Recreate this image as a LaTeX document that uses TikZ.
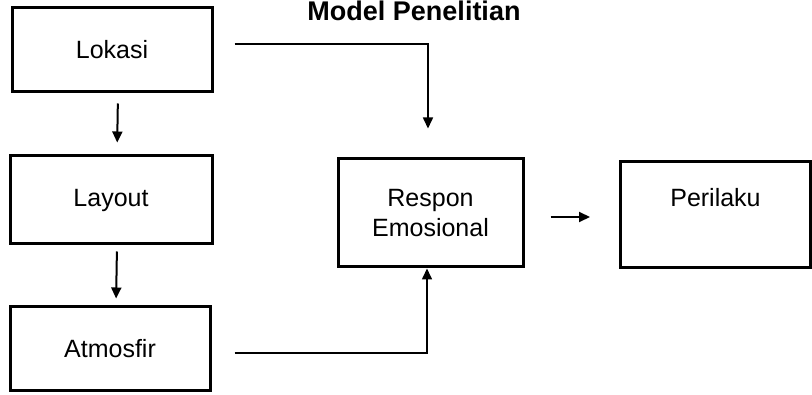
\documentclass[tikz,border=0pt]{standalone}
\usepackage{fontspec}
\setmainfont{Liberation Sans}
\usetikzlibrary{arrows.meta,calc}
\tikzset{
  kotak/.style={
    draw,
    line width=3pt,
    shape=rectangle,
    align=center,
    font=\fontsize{25}{30}\selectfont
  },
  panah/.style={
    line width=2pt,
    -{Triangle[length=11pt,width=10pt]}
  },
  garis/.style={
    line width=1.6pt,
    -{Triangle[length=11pt,width=10pt]}
  },
  judul/.style={
    font=\fontsize{27}{30}\selectfont\bfseries
  }
}

\begin{document}
\begin{tikzpicture}[x=1pt,y=1pt]
    \useasboundingbox (0,0) rectangle (812,394);
    \node[judul, anchor=base] (judul) at (414,373.5) {Model Penelitian};
    \node[kotak, minimum width=200pt, minimum height=84pt] (lokasi) at (112,344) {Lokasi};
    \node[kotak, minimum width=202pt, minimum height=88pt] (layout) at (111,194) {Layout};
    \node[kotak, minimum width=200pt, minimum height=83pt] (atmosfir) at (110,45.5) {Atmosfir};
    \node[kotak, minimum width=185pt, minimum height=108pt] (respon) at (430.5,181) {Respon\\Emosional};
    \node[kotak, minimum width=190pt, minimum height=106pt, text height=18pt, text depth=34pt] (perilaku) at (715.5,179) {Perilaku};
    % panah antar kotak
    \draw[panah, shorten <=10pt, shorten >=12pt] ([xshift=6pt]lokasi.south) -- ([xshift=6pt]layout.north);
    \draw[panah, shorten <=6pt, shorten >=7pt] ([xshift=6pt]layout.south) -- ([xshift=6pt]atmosfir.north);
    \draw[garis, shorten >=29pt] ([xshift=21pt,yshift=6pt]lokasi.east) -| ([xshift=-2.5pt]respon.north);
    \draw[garis] ([xshift=23pt,yshift=-4.5pt]atmosfir.east) -| ([xshift=-3.5pt]respon.south);
    \draw[panah, shorten <=26pt, shorten >=29pt] ([yshift=-4pt]respon.east) -- ([yshift=-2pt]perilaku.west);
\end{tikzpicture}
\end{document}
